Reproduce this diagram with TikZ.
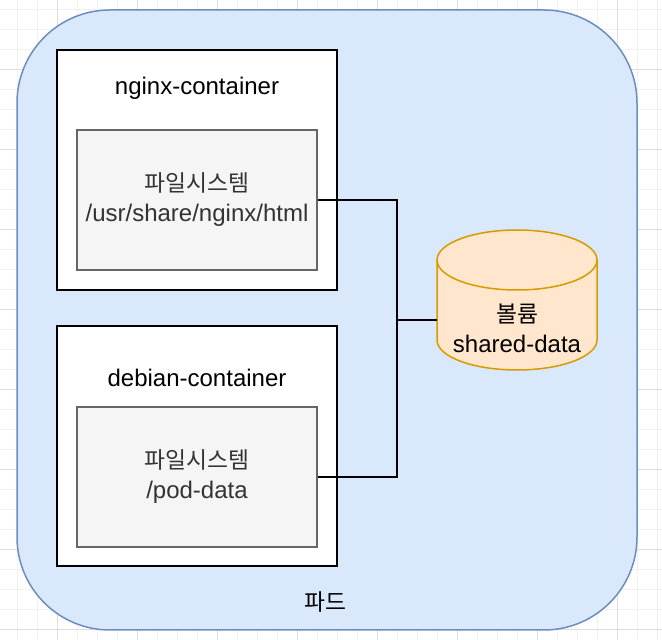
\documentclass[tikz,border=0pt]{standalone}
\usepackage{fontspec}
\setmainfont{Liberation Sans}
\newfontfamily\kr[Scale=0.95]{Noto Sans CJK KR}
\definecolor{gridminor}{HTML}{F0F0F0}
\definecolor{gridmajor}{HTML}{DEDEDE}
\definecolor{podfill}{HTML}{DAE8FC}
\definecolor{podline}{HTML}{6C8EBF}
\definecolor{fsfill}{HTML}{F5F5F5}
\definecolor{fsline}{HTML}{666666}
\definecolor{fstext}{HTML}{333333}
\definecolor{volfill}{HTML}{FFE6CC}
\definecolor{volline}{HTML}{D79B00}
\tikzset{
  minorline/.style={draw=gridminor, line width=1pt},
  majorline/.style={draw=gridmajor, line width=1pt},
  podbox/.style={draw=podline, fill=podfill, line width=1.5pt, rounded corners=93pt, inner sep=0pt},
  contbox/.style={draw=black, fill=white, line width=1.7pt, inner sep=0pt},
  fsbox/.style={draw=fsline, fill=fsfill, line width=1.3pt, inner sep=0pt, text=fstext, align=center,
    font=\fontsize{24}{30}\selectfont},
  lbl/.style={inner sep=0pt, align=center, font=\fontsize{24}{30}\selectfont},
  volshape/.style={draw=volline, fill=volfill, line width=1.5pt},
  conn/.style={draw=black, line width=1.7pt}
}
\begin{document}
\begin{tikzpicture}[x=1pt,y=1pt]
\useasboundingbox (0,0) rectangle (662,640);
% grid
\foreach \gx in {17,37,...,657} \draw[minorline] (\gx,0) -- (\gx,640);
\foreach \gy in {10,30,...,630} \draw[minorline] (0,\gy) -- (662,\gy);
\foreach \gx in {57,137,...,617} \draw[majorline] (\gx,0) -- (\gx,640);
\foreach \gy in {10,90,...,570} \draw[majorline] (0,\gy) -- (662,\gy);
% pod
\node[podbox, minimum width=620pt, minimum height=620pt] (pod) at (327,320) {};
\node[lbl] (podlabel) at (325,38) {\kr 파드};
% nginx container
\node[contbox, minimum width=280pt, minimum height=240pt] (nginx) at (197,470) {};
\node[lbl] (nginxtitle) at (197,552) {nginx-container};
\node[fsbox, minimum width=240pt, minimum height=140pt] (fs1) at (197,440) {{\kr 파일시스템}\\/usr/share/nginx/html};
% debian container
\node[contbox, minimum width=280pt, minimum height=240pt] (debian) at (197,194) {};
\node[lbl] (debiantitle) at (197,262) {debian-container};
\node[fsbox, minimum width=240pt, minimum height=140pt] (fs2) at (197,163) {{\kr 파일시스템}\\/pod-data};
% volume cylinder
\node[inner sep=0pt, minimum width=160pt, minimum height=140pt] (vol) at (517,340) {};
\path[volshape] (437,380) -- (437,300)
  arc[start angle=180, end angle=360, x radius=80, y radius=30]
  -- (597,380)
  arc[start angle=0, end angle=180, x radius=80, y radius=30] -- cycle;
\draw[volshape, fill=none] (437,380) arc[start angle=180, end angle=360, x radius=80, y radius=30];
\node[lbl] (voltext) at (517,312) {{\kr 볼륨}\\shared-data};
% connectors
\coordinate (j) at (397,320);
\draw[conn] (fs1.east) -| (j) -- (j -| vol.west);
\draw[conn] (fs2.east) -| (j);
\end{tikzpicture}
\end{document}
